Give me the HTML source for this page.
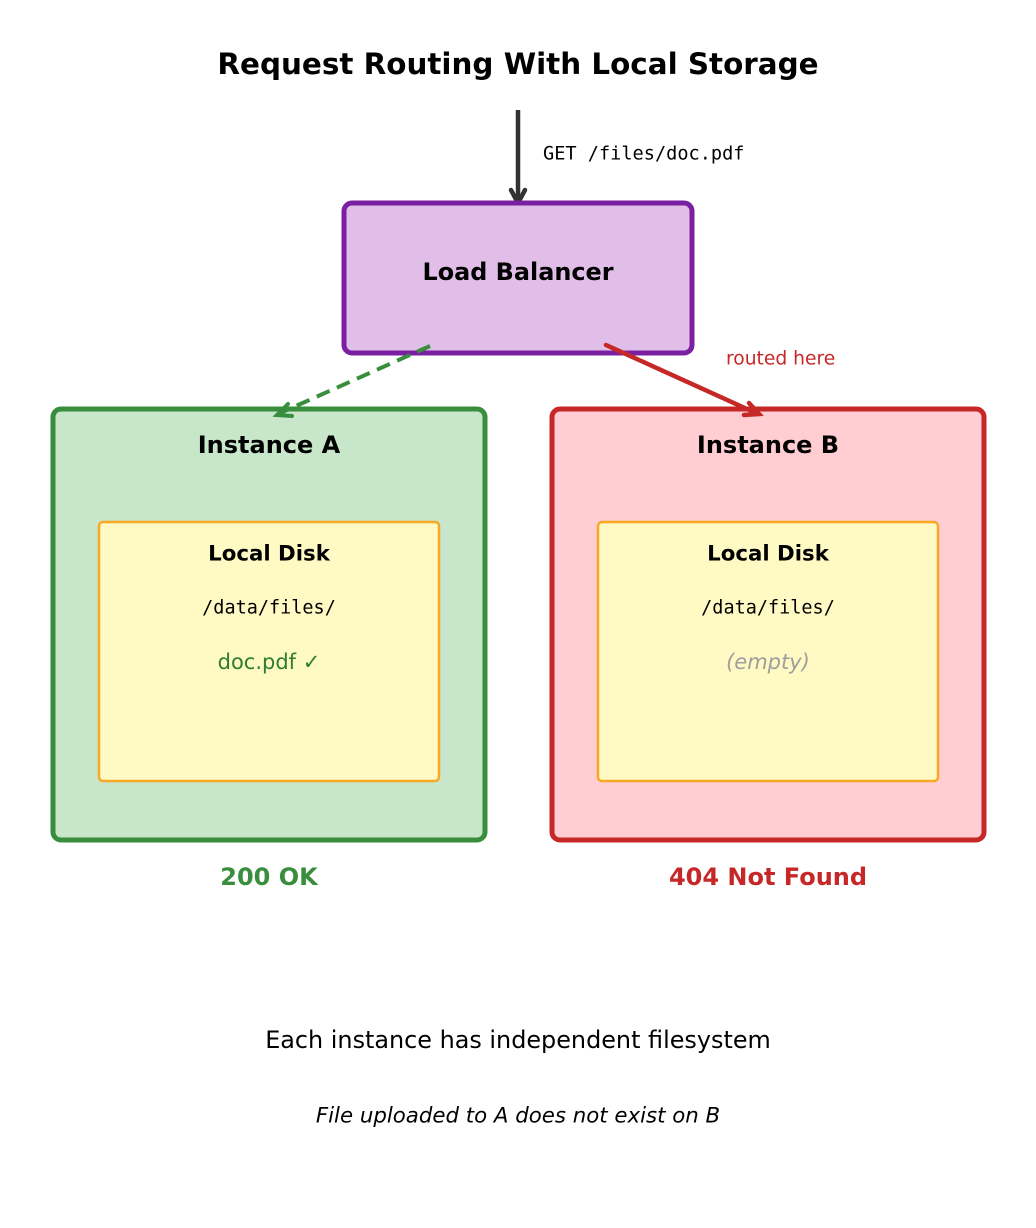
<!DOCTYPE html>
<html><head><meta charset="utf-8"><style>
html,body{margin:0;padding:0;background:#fff}
svg{display:block}
text{font-family:"DejaVu Sans","Liberation Sans",sans-serif}
.m{font-family:"DejaVu Sans Mono","Liberation Mono",monospace}
</style></head><body>
<svg width="1036" height="1228" viewBox="0 0 1036 1228" xmlns="http://www.w3.org/2000/svg">
<text x="518" y="64" text-anchor="middle" dominant-baseline="central" font-size="29.4" font-weight="bold" fill="#000">Request Routing With Local Storage</text>
<line x1="518" y1="110" x2="518" y2="203" stroke="#333" stroke-width="4.5"/>
<polyline points="511,190 518,203 525,190" fill="none" stroke="#333" stroke-width="4.5" stroke-linecap="round" stroke-linejoin="round"/>
<text x="543" y="154" class="m" dominant-baseline="central" font-size="18.6" fill="#000">GET /files/doc.pdf</text>
<rect x="344" y="203" width="348" height="150" rx="8" fill="#e1bee7" stroke="#7b1fa2" stroke-width="5"/>
<text x="518" y="272" text-anchor="middle" dominant-baseline="central" font-size="23.9" font-weight="bold">Load Balancer</text>
<rect x="53" y="409" width="432" height="431" rx="8" fill="#c8e6c9" stroke="#388e3c" stroke-width="5"/>
<rect x="552" y="409" width="432" height="431" rx="8" fill="#ffcdd2" stroke="#c62828" stroke-width="5"/>
<line x1="430" y1="346" x2="278" y2="414" stroke="#388e3c" stroke-width="4" stroke-dasharray="14,8"/>
<polyline points="288,404 277,415 292,416" fill="none" stroke="#388e3c" stroke-width="4" stroke-linecap="round"/>
<line x1="606" y1="345" x2="758" y2="414" stroke="#c62828" stroke-width="4.5" stroke-linecap="round"/>
<polyline points="749,403 759,414 744,415" fill="none" stroke="#c62828" stroke-width="4.5" stroke-linecap="round"/>
<text x="726" y="359" dominant-baseline="central" font-size="18.7" fill="#c62828">routed here</text>
<text x="269" y="445" text-anchor="middle" dominant-baseline="central" font-size="24" font-weight="bold">Instance A</text>
<text x="768" y="445" text-anchor="middle" dominant-baseline="central" font-size="24" font-weight="bold">Instance B</text>
<rect x="99" y="522" width="340" height="259" rx="4" fill="#fff9c4" stroke="#f9a825" stroke-width="2.5"/>
<rect x="598" y="522" width="340" height="259" rx="4" fill="#fff9c4" stroke="#f9a825" stroke-width="2.5"/>
<text x="269" y="554" text-anchor="middle" dominant-baseline="central" font-size="21.3" font-weight="bold">Local Disk</text>
<text x="768" y="554" text-anchor="middle" dominant-baseline="central" font-size="21.3" font-weight="bold">Local Disk</text>
<text x="269" y="608" class="m" text-anchor="middle" dominant-baseline="central" font-size="18.5">/data/files/</text>
<text x="768" y="608" class="m" text-anchor="middle" dominant-baseline="central" font-size="18.5">/data/files/</text>
<text x="269" y="662" text-anchor="middle" dominant-baseline="central" font-size="21" fill="#2e7d32">doc.pdf ✓</text>
<text x="768" y="662" text-anchor="middle" dominant-baseline="central" font-size="21" font-style="italic" fill="#9e9e9e">(empty)</text>
<text x="269" y="877" text-anchor="middle" dominant-baseline="central" font-size="24" font-weight="bold" fill="#388e3c">200 OK</text>
<text x="768" y="877" text-anchor="middle" dominant-baseline="central" font-size="24" font-weight="bold" fill="#c62828">404 Not Found</text>
<text x="518" y="1040" text-anchor="middle" dominant-baseline="central" font-size="23.9">Each instance has independent filesystem</text>
<text x="518" y="1116" text-anchor="middle" dominant-baseline="central" font-size="21.3" font-style="italic">File uploaded to A does not exist on B</text>
</svg>
</body></html>
